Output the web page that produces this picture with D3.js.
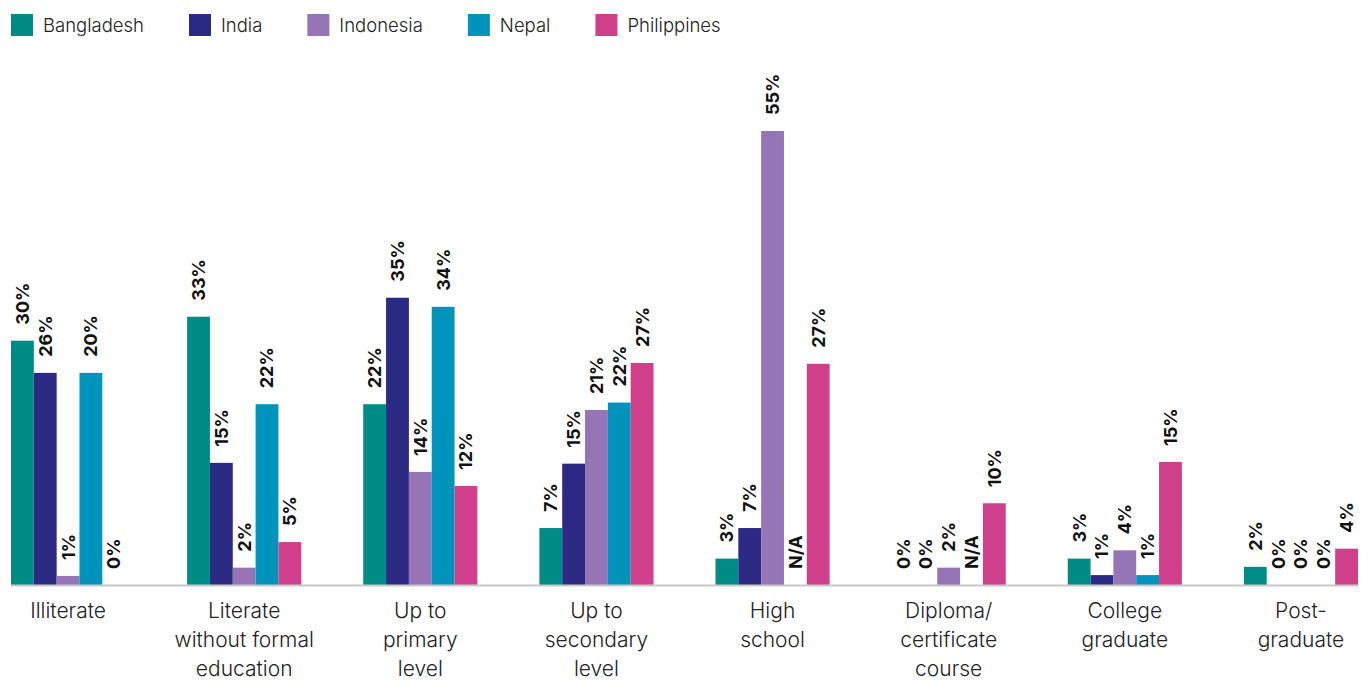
<!DOCTYPE html>
<html>
<head>
<meta charset="utf-8">
<script src="https://cdn.jsdelivr.net/npm/d3@7"></script>
<style>
  body { margin: 0; background: #fff; }
  svg text { font-family: Inter, "Noto Sans", sans-serif; }
</style>
</head>
<body>
<div id="chart"></div>
<script>
var categories = ["Illiterate", "Literate without formal education", "Up to primary level",
    "Up to secondary level", "High school", "Diploma/ certificate course",
    "College graduate", "Post-graduate"];
var categoryLines = [["Illiterate"], ["Literate", "without formal", "education"], ["Up to", "primary", "level"],
    ["Up to", "secondary", "level"], ["High", "school"], ["Diploma/", "certificate", "course"],
    ["College", "graduate"], ["Post-", "graduate"]];

var countries = ["Bangladesh", "India", "Indonesia", "Nepal", "Philippines"];
var colors = ["#008b87", "#2b2a84", "#9575b6", "#0093bc", "#cf3f8a"];

// bar heights (percent)
var bangladesh = [29.6, 32.5, 21.9, 6.9, 3.2, 0, 3.2, 2.2];
var india = [25.7, 14.8, 34.8, 14.7, 6.9, 0, 1.2, 0];
var indonesia = [1.1, 2.1, 13.7, 21.2, 55, 2.1, 4.2, 0];
var nepal = [25.7, 21.9, 33.7, 22.1, null, null, 1.2, 0];
var philippines = [0, 5.2, 12.0, 26.9, 26.8, 9.9, 14.9, 4.4];

// printed labels
var bangladeshLabels = ["30%", "33%", "22%", "7%", "3%", "0%", "3%", "2%"];
var indiaLabels = ["26%", "15%", "35%", "15%", "7%", "0%", "1%", "0%"];
var indonesiaLabels = ["1%", "2%", "14%", "21%", "55%", "2%", "4%", "0%"];
var nepalLabels = ["20%", "22%", "34%", "22%", "N/A", "N/A", "1%", "0%"];
var philippinesLabels = ["0%", "5%", "12%", "27%", "27%", "10%", "15%", "4%"];

function init() {
    var w = 1369;
    var h = 681;
    var series = [bangladesh, india, indonesia, nepal, philippines];
    var seriesLabels = [bangladeshLabels, indiaLabels, indonesiaLabels, nepalLabels, philippinesLabels];

    var svg = d3.select("#chart")
        .append("svg")
        .attr("width", w)
        .attr("height", h);

    var x0 = d3.scaleBand()
        .domain(d3.range(categories.length))
        .range([11, 1358])
        .paddingInner(0.352)
        .paddingOuter(0);

    var x1 = d3.scaleBand()
        .domain(d3.range(countries.length))
        .range([0, x0.bandwidth()]);

    var y = d3.scaleLinear()
        .domain([0, 55])
        .range([585, 131]);

    // flatten into cells
    var cells = [];
    categories.forEach(function (c, i) {
        countries.forEach(function (k, j) {
            cells.push({ cat: i, s: j, v: series[j][i], label: seriesLabels[j][i] });
        });
    });

    svg.selectAll("rect.bar")
        .data(cells.filter(function (d) { return d.v; }))
        .enter()
        .append("rect")
        .attr("class", "bar")
        .attr("x", function (d) { return x0(d.cat) + x1(d.s); })
        .attr("y", function (d) { return y(d.v); })
        .attr("width", x1.bandwidth())
        .attr("height", function (d) { return y(0) - y(d.v); })
        .attr("fill", function (d) { return colors[d.s]; });

    // baseline
    svg.append("line")
        .attr("x1", 11)
        .attr("x2", 1358)
        .attr("y1", y(0) + 0.5)
        .attr("y2", y(0) + 0.5)
        .attr("stroke", "#c8c8c8")
        .attr("stroke-width", 2);

    // value labels
    svg.selectAll(".bar-label")
        .data(cells)
        .enter()
        .append("text")
        .attr("class", "bar-label")
        .attr("transform", function (d) {
            var cx = x0(d.cat) + x1(d.s) + x1.bandwidth() / 2;
            var cy = y(d.v || 0) - 16;
            return "translate(" + cx + "," + cy + ") rotate(-90)";
        })
        .attr("dy", "0.36em")
        .attr("text-anchor", "start")
        .attr("font-size", 18)
        .attr("font-weight", 700)
        .attr("fill", "#111")
        .text(function (d) { return d.label; });

    // category labels
    var cat = svg.selectAll(".cat-label")
        .data(categoryLines)
        .enter()
        .append("text")
        .attr("class", "cat-label")
        .attr("text-anchor", "middle")
        .attr("font-size", 21)
        .attr("font-weight", 300)
        .attr("fill", "#222")
        .attr("x", function (d, i) { return x0(i) + x0.bandwidth() / 2; })
        .attr("y", 618);

    cat.selectAll("tspan")
        .data(function (d) { return d; })
        .enter()
        .append("tspan")
        .attr("x", function () { return d3.select(this.parentNode).attr("x"); })
        .attr("dy", function (d, i) { return i === 0 ? 0 : 29; })
        .text(function (d) { return d; });

    // legend
    var lx = 11;
    countries.forEach(function (k, j) {
        var g = svg.append("g").attr("transform", "translate(" + lx + ",14)");
        g.append("rect")
            .attr("width", 22)
            .attr("height", 22)
            .attr("fill", colors[j]);
        var t = g.append("text")
            .attr("x", 32)
            .attr("y", 11)
            .attr("dy", "0.36em")
            .attr("font-size", 18.5)
            .attr("font-weight", 300)
            .attr("fill", "#222")
            .text(k);
        lx += 32 + t.node().getComputedTextLength() + 45;
    });
}

window.onload = init;
</script>
</body>
</html>
